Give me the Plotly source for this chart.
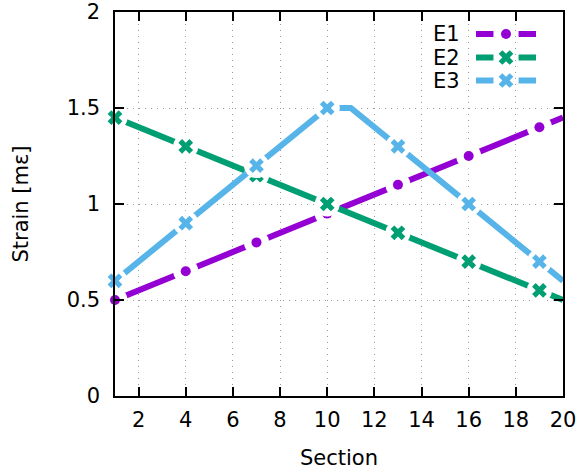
import plotly.graph_objects as go

sections = [1, 2, 3, 4, 5, 6, 7, 8, 9, 10, 11, 12, 13, 14, 15, 16, 17, 18, 19, 20]
E1 = [0.50, 0.55, 0.60, 0.65, 0.70, 0.75, 0.80, 0.85, 0.90, 0.95,
      1.00, 1.05, 1.10, 1.15, 1.20, 1.25, 1.30, 1.35, 1.40, 1.45]
E2 = [1.45, 1.40, 1.35, 1.30, 1.25, 1.20, 1.15, 1.10, 1.05, 1.00,
      0.95, 0.90, 0.85, 0.80, 0.75, 0.70, 0.65, 0.60, 0.55, 0.50]
E3 = [0.6, 0.7, 0.8, 0.9, 1.0, 1.1, 1.2, 1.3, 1.4, 1.5,
      1.5, 1.4, 1.3, 1.2, 1.1, 1.0, 0.9, 0.8, 0.7, 0.6]
series_names = ["E1", "E2", "E3"]
x_ticks = [2, 4, 6, 8, 10, 12, 14, 16, 18, 20]
y_ticks = [0, 0.5, 1, 1.5, 2]
point_interval = 3

colors = ["#9400D3", "#009E73", "#56B4E9"]
symbols = ["circle", "x", "x"]
msizes = [10, 13, 13]
FONT = "DejaVu Sans"
FS = 21
LW = 6
GAP = 25

fig = go.Figure()
for name, ys, c, sym, ms in zip(series_names, [E1, E2, E3], colors, symbols, msizes):
    fig.add_trace(go.Scatter(x=sections, y=ys, mode="lines", line=dict(color=c, width=LW),
                             showlegend=False, hoverinfo="skip", cliponaxis=False))
    mx = sections[::point_interval]
    my = ys[::point_interval]
    fig.add_trace(go.Scatter(x=mx, y=my, mode="markers",
                             marker=dict(symbol="circle", size=GAP, color="white", line=dict(width=0)),
                             showlegend=False, hoverinfo="skip", cliponaxis=False))
    fig.add_trace(go.Scatter(x=mx, y=my, mode="markers", name=name,
                             marker=dict(symbol=sym, size=ms, color=c, line=dict(width=0)),
                             showlegend=False, cliponaxis=False))

# manual gnuplot-style key (text left, sample right)
key_text_x = 0.7746
key_x0, key_xm, key_x1 = 0.8058, 0.8728, 0.9397
key_rows = [0.9427, 0.8815, 0.8216]
half_gap = 0.028
for name, c, sym, ms, ky in zip(series_names, colors, symbols, msizes, key_rows):
    fig.add_annotation(x=key_text_x, y=ky, xref="paper", yref="paper", text=name,
                       showarrow=False, xanchor="right", yanchor="middle",
                       font=dict(family=FONT, size=FS, color="black"))
    fig.add_shape(type="line", xref="paper", yref="paper", x0=key_x0, x1=key_xm - half_gap,
                  y0=ky, y1=ky, line=dict(color=c, width=LW))
    fig.add_shape(type="line", xref="paper", yref="paper", x0=key_xm + half_gap, x1=key_x1,
                  y0=ky, y1=ky, line=dict(color=c, width=LW))
    fig.add_trace(go.Scatter(x=[key_xm], y=[ky], xaxis="x2", yaxis="y2", mode="markers",
                             marker=dict(symbol=sym, size=ms, color=c, line=dict(width=0)),
                             showlegend=False, hoverinfo="skip", cliponaxis=False))

axis_common = dict(showline=True, linecolor="black", linewidth=1.5, mirror="allticks",
                   ticks="inside", ticklen=9, tickwidth=1.5, tickcolor="black",
                   showgrid=True, gridcolor="#9a9a9a", gridwidth=1, griddash="1px,5px",
                   zeroline=False, automargin=False,
                   tickfont=dict(family=FONT, size=FS, color="black"))

fig.update_layout(
    width=581, height=473,
    margin=dict(l=115, r=18, t=12, b=77),
    paper_bgcolor="white", plot_bgcolor="white",
    showlegend=False,
    font=dict(family=FONT, size=FS, color="black"),
    xaxis=dict(range=[1, 20], tickvals=x_ticks, ticktext=[str(v) for v in x_ticks],
               ticklabelstandoff=4,
               title=dict(text="Section", font=dict(family=FONT, size=FS), standoff=19),
               **axis_common),
    yaxis=dict(range=[0, 2], tickvals=y_ticks, ticktext=["0", "0.5", "1", "1.5", "2"],
               ticklabelstandoff=9,
               title=dict(text="Strain [mε]", font=dict(family=FONT, size=FS), standoff=32),
               **axis_common),
    xaxis2=dict(overlaying="x", range=[0, 1], visible=False),
    yaxis2=dict(overlaying="y", range=[0, 1], visible=False),
)

fig.write_html("out.html", config={"displayModeBar": False},
               post_script="document.body.style.margin='0';document.body.style.overflow='hidden';")
